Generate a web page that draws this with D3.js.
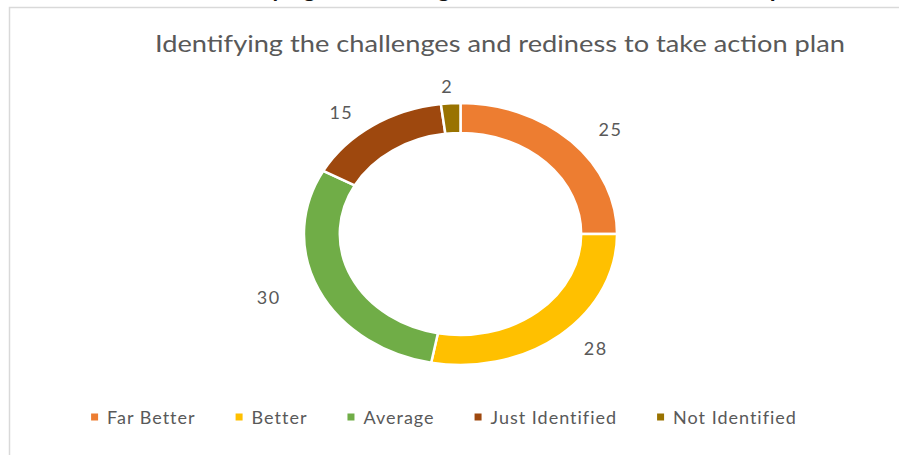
<!DOCTYPE html>
<html>
<head>
<meta charset="utf-8">
<script src="https://cdn.jsdelivr.net/npm/d3@7/dist/d3.min.js"></script>
<style>
  body { margin: 0; background: #fff; }
  text { font-family: Lato, "Open Sans", sans-serif; }
</style>
</head>
<body>
<div id="chart"></div>
<script>
// chart data
var categories = ["Far Better", "Better", "Average", "Just Identified", "Not Identified"];
var values = [25, 28, 30, 15, 2];
var colors = ["#ED7D31", "#FFC000", "#70AD47", "#9E480E", "#997300"];
var title = "Identifying the challenges and rediness to take action plan";

function draw_chart() {
    var width = 899, height = 455;
    var svg = d3.select("#chart").append("svg")
        .attr("width", width).attr("height", height);

    // cut-off caption above the chart frame (only descenders show)
    var cap = svg.append("text")
        .attr("x", 0).attr("y", -3)
        .attr("font-weight", "bold")
        .attr("font-size", 26)
        .attr("fill", "#111")
        .text(title);
    // fit so 'y' of "Identifying" and 'p' of "plan" land where they are in the picture
    var iy = title.indexOf("y"), ip = title.lastIndexOf("p");
    var node = cap.node();
    var py = node.getStartPositionOfChar(iy).x, pp = node.getStartPositionOfChar(ip).x;
    var fs = 26 * (774 - 275) / (pp - py);
    cap.attr("font-size", fs);
    py = node.getStartPositionOfChar(iy).x;
    cap.attr("x", 271 - py);

    // frame
    svg.append("rect")
        .attr("x", 9.5).attr("y", 7.5)
        .attr("width", 900).attr("height", 470)
        .attr("fill", "#fff")
        .attr("stroke", "#d9d9d9").attr("stroke-width", 1.5);

    // title
    svg.append("text")
        .attr("x", 500).attr("y", 52)
        .attr("text-anchor", "middle")
        .attr("font-size", 24)
        .attr("fill", "#595959")
        .attr("textLength", 690)
        .attr("lengthAdjust", "spacingAndGlyphs")
        .text(title);

    // doughnut (Excel squashes it into an ellipse)
    var cx = 460.5, cy = 234;
    var sx = 1.195;
    var pie = d3.pie().sort(null).value(function(d) { return d; });
    var arcs = pie(values);
    var arc = d3.arc().innerRadius(101).outerRadius(131);

    var ring = svg.append("g")
        .attr("transform", "translate(" + cx + "," + cy + ") scale(" + sx + ",1)");
    ring.selectAll("path")
        .data(arcs)
        .enter()
        .append("path")
        .attr("d", arc)
        .attr("fill", function(d, i) { return colors[i]; })
        .attr("stroke", "#fff")
        .attr("stroke-width", 2.5)
        .attr("vector-effect", "non-scaling-stroke");

    // data labels outside the ring
    var unit = d3.arc().innerRadius(1).outerRadius(1);
    var lrx = 212, lry = 148;
    svg.selectAll("text.lbl")
        .data(arcs)
        .enter()
        .append("text")
        .attr("class", "lbl")
        .attr("x", function(d) { return cx + unit.centroid(d)[0] * lrx; })
        .attr("y", function(d) { return cy + unit.centroid(d)[1] * lry; })
        .attr("text-anchor", "middle")
        .attr("dominant-baseline", "central")
        .attr("font-size", 18)
        .attr("letter-spacing", 1.5)
        .attr("fill", "#595959")
        .text(function(d) { return d.data; });

    // legend
    var legend = svg.append("g");
    var x = 0;
    categories.forEach(function(c, i) {
        var it = legend.append("g");
        it.append("rect")
            .attr("x", 0).attr("y", -3.5)
            .attr("width", 7).attr("height", 7)
            .attr("fill", colors[i]);
        var t = it.append("text")
            .attr("x", 16).attr("y", 0)
            .attr("dominant-baseline", "central")
            .attr("font-size", 18)
            .attr("letter-spacing", 1)
            .attr("fill", "#595959")
            .text(c);
        it.attr("transform", "translate(" + x + ",0)");
        x += 16 + t.node().getComputedTextLength() + 40;
    });
    var total = x - 40;
    legend.attr("transform", "translate(" + (444 - total / 2) + ",417)");
}

window.onload = draw_chart;
</script>
</body>
</html>
